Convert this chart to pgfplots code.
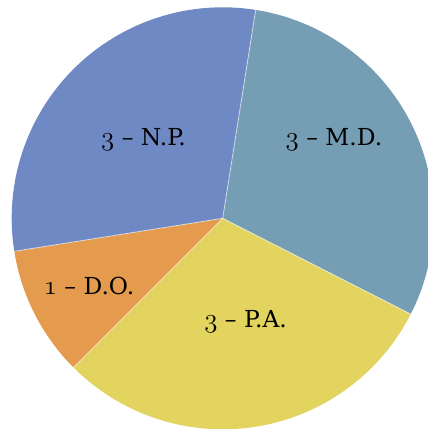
\RequirePackage{fix-cm}
\documentclass[border=0pt]{standalone}
\usepackage{fontspec}
\setmainfont{DejaVu Serif}
\usepackage{pgfplots}
\usepackage{pgfplotstable}
\pgfplotsset{compat=1.18}
\definecolor{slice0}{HTML}{759DB3}
\definecolor{slice1}{HTML}{E2D45E}
\definecolor{slice2}{HTML}{E49B4D}
\definecolor{slice3}{HTML}{6F89C4}
\newcommand{\osn}[1]{\scalebox{1.15}{$\mathnormal{#1}$}}
\pgfplotstableread{
name value
M.D. 3
P.A. 3
D.O. 1
N.P. 3
}\piedata
\begin{document}
\begin{tikzpicture}
\begin{axis}[scale only axis, width=428bp, height=429bp,
  xmin=-222.7, xmax=205.3, ymin=-210.7, ymax=218.3,
  hide axis, clip=true]
\path (rel axis cs:0,0) rectangle (rel axis cs:1,1);
\gdef\total{0}
\pgfplotsforeachungrouped \i in {0,...,3}{%
  \pgfplotstablegetelem{\i}{value}\of\piedata
  \pgfmathsetmacro\newtotal{\total+\pgfplotsretval}%
  \global\let\total\newtotal
}
\gdef\start{81}
\pgfplotsforeachungrouped \i in {0,...,3}{%
  \pgfplotstablegetelem{\i}{value}\of\piedata
  \pgfmathsetmacro\endang{\start-360*\pgfplotsretval/\total}%
  \edef\temp{\noexpand\fill[slice\i, overlay] (axis cs:0,0) -- ++(\start:211bp) arc[start angle=\start, end angle=\endang, radius=211bp] -- cycle;}%
  \temp
  \global\let\start\endang
}
\gdef\start{81}
\pgfplotsforeachungrouped \i in {0,...,3}{%
  \pgfplotstablegetelem{\i}{value}\of\piedata
  \pgfmathsetmacro\endang{\start-360*\pgfplotsretval/\total}%
  \edef\temp{\noexpand\draw[white, opacity=0.55, line width=0.9bp, overlay] (axis cs:0,0) -- ++(\start:211bp);}%
  \temp
  \global\let\start\endang
}
\tikzset{lbl/.style={anchor=base, font=\fontsize{23.5}{28}\selectfont}}
\node[lbl] at (axis cs:-79.2,72.6) {\osn{3} – N.P.};
\node[lbl] at (axis cs:111.3,72.6) {\osn{3} – M.D.};
\node[lbl] at (axis cs:22.9,-109.7) {\osn{3} – P.A.};
\node[lbl] at (axis cs:-133.7,-76.7) {\osn{1} – D.O.};
\end{axis}
\end{tikzpicture}
\end{document}
